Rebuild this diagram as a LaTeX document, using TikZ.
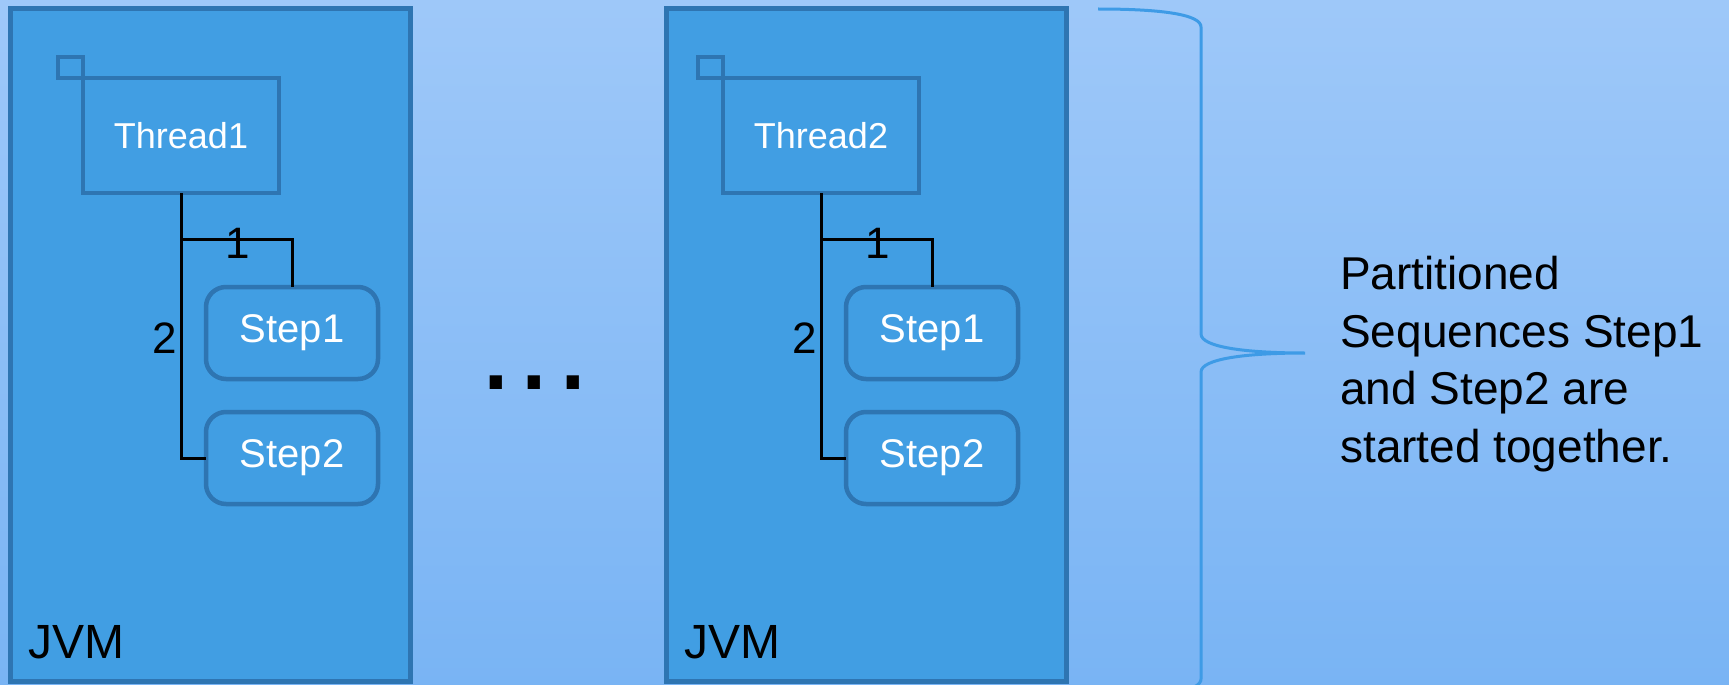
\documentclass[tikz,border=0pt]{standalone}
\usepackage{fontspec}
\setmainfont{Liberation Sans}
\usetikzlibrary{calc}
\definecolor{bgtop}{RGB}{158,200,249}
\definecolor{bgbot}{RGB}{121,180,244}
\definecolor{boxfill}{RGB}{65,158,227}
\definecolor{boxline}{RGB}{46,117,178}
\definecolor{bracecol}{RGB}{62,155,230}
\begin{document}
\begin{tikzpicture}[x=1pt,y=-1pt,
  jvm/.style={rectangle, draw=boxline, fill=boxfill, line width=5pt, minimum width=400pt, minimum height=672pt, inner sep=0pt, outer sep=0pt},
  thread/.style={rectangle, draw=boxline, fill=boxfill, line width=4.5pt, minimum width=196pt, minimum height=115pt, inner sep=0pt, outer sep=0pt, text=white, font=\fontsize{36}{40}\selectfont},
  flag/.style={rectangle, draw=boxline, fill=boxfill, line width=4.5pt, minimum width=25pt, minimum height=21pt, inner sep=0pt, outer sep=0pt},
  stepbox/.style={rectangle, draw=boxline, fill=boxfill, line width=4.5pt, rounded corners=20pt, minimum width=172pt, minimum height=92pt, inner sep=0pt, outer sep=0pt, text=white, font=\fontsize{40}{44}\selectfont},
  conn/.style={draw=black, line width=3pt},
  num/.style={font=\fontsize{44}{48}\selectfont, inner sep=0pt, outer sep=0pt},
  jvmlabel/.style={font=\fontsize{48}{52}\selectfont, inner sep=0pt, anchor=base west},
  brace/.style={draw=bracecol, line width=3pt}
]
\useasboundingbox (0,0) rectangle (1729,685);
\shade[top color=bgtop, bottom color=bgbot] (0,0) rectangle (1729,685);

% JVM boxes
\node[jvm] (jvm1) at (210,345) {};
\node[jvm] (jvm2) at (866,345) {};

% threads
\node[thread] (t1) at (181,135.5) {Thread1};
\node[thread] (t2) at (821,135.5) {Thread2};
\node[flag, anchor=south east] (f1) at (t1.north west) {};
\node[flag, anchor=south east] (f2) at (t2.north west) {};

% steps
\node[stepbox] (s11) at (292,333) {Step1};
\node[stepbox] (s12) at (292,458) {Step2};
\node[stepbox] (s21) at (932,333) {Step1};
\node[stepbox] (s22) at (932,458) {Step2};

% connectors
\coordinate (j1) at (181,239);
\coordinate (j2) at (821,239);
\draw[conn] (t1.south) |- (s12.west);
\draw[conn] (j1) -| (s11.north);
\draw[conn] (t2.south) |- (s22.west);
\draw[conn] (j2) -| (s21.north);

% order labels
\node[num, anchor=base] (n11) at (238,258.5) {1};
\node[num, anchor=base east] (n12) at (177,353) {2};
\node[num, anchor=base] (n21) at (878,258.5) {1};
\node[num, anchor=base east] (n22) at (817,353) {2};

% JVM labels
\node[jvmlabel] (l1) at (28,658.5) {JVM};
\node[jvmlabel] (l2) at (684.5,658.5) {JVM};

% ellipsis
\node[font=\fontsize{128}{130}\selectfont, anchor=base west, inner sep=0pt] (dots) at (478,389.3) {.\kern3pt.\kern3pt.};

% brace
\coordinate (btop) at (1098,9);
\coordinate (btip) at (1305,353);
\coordinate (bbot) at (1098,697);
\draw[brace] (btop) .. controls (1165,9) and (1201,15) .. (1201,27) -- (1201,334)
  .. controls (1201,347) and (1245,353) .. (btip)
  .. controls (1245,353) and (1201,359) .. (1201,372) -- (1201,679)
  .. controls (1201,691) and (1165,697) .. (bbot);

% note
\node[anchor=west, align=left, inner sep=0pt, font=\fontsize{46}{57.5}\selectfont] (note) at (1340,364)
  {Partitioned\\Sequences Step1\\and Step2 are\\started together.};
\end{tikzpicture}
\end{document}
